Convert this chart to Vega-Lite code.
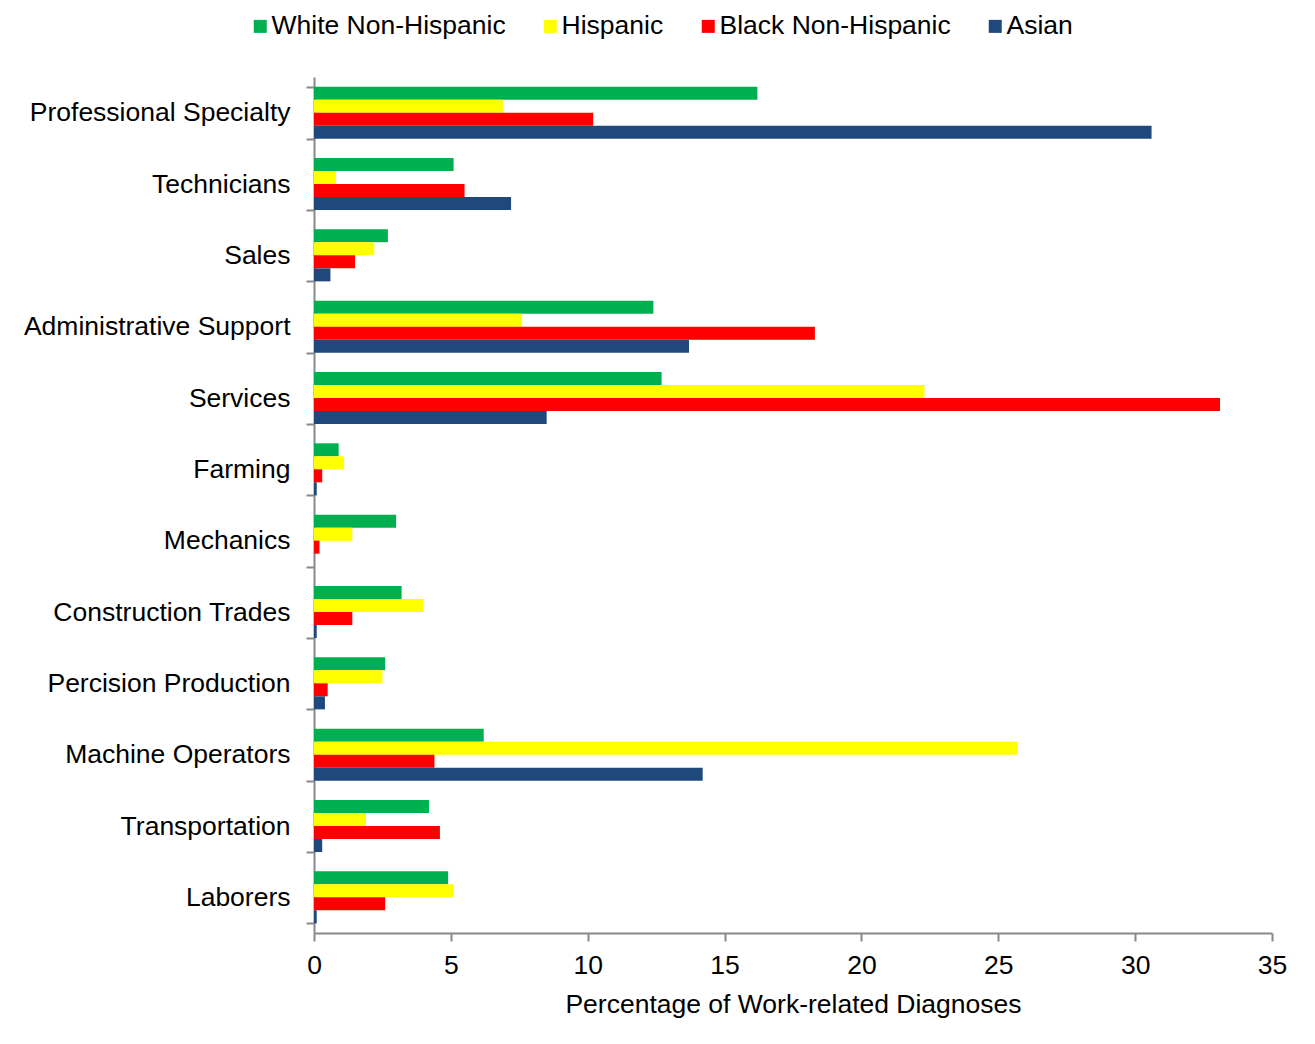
{
  "$schema": "https://vega.github.io/schema/vega-lite/v6.json",
  "width": 958,
  "height": 856,
  "autosize": {"type": "none"},
  "padding": {"left": 314, "top": 77, "right": 43, "bottom": 111},
  "background": "white",
  "config": {
    "view": {"stroke": null},
    "font": "Liberation Sans",
    "axis": {"grid": false, "domainColor": "#898989", "tickColor": "#898989", "domainWidth": 2, "tickWidth": 2, "labelColor": "#000000", "titleColor": "#000000", "labelFont": "Liberation Sans", "titleFont": "Liberation Sans", "labelFontSize": 26.5, "titleFontSize": 26.5, "titleFontWeight": "normal", "tickSize": 8},
    "legend": {"labelFont": "Liberation Sans", "labelFontSize": 26.5, "labelColor": "#000000", "labelLimit": 500}
  },
  "data": {
    "values": [
      {"occupation": "Professional Specialty", "group": "White Non-Hispanic", "value": 16.2},
      {"occupation": "Professional Specialty", "group": "Hispanic", "value": 6.9},
      {"occupation": "Professional Specialty", "group": "Black Non-Hispanic", "value": 10.2},
      {"occupation": "Professional Specialty", "group": "Asian", "value": 30.6},
      {"occupation": "Technicians", "group": "White Non-Hispanic", "value": 5.1},
      {"occupation": "Technicians", "group": "Hispanic", "value": 0.8},
      {"occupation": "Technicians", "group": "Black Non-Hispanic", "value": 5.5},
      {"occupation": "Technicians", "group": "Asian", "value": 7.2},
      {"occupation": "Sales", "group": "White Non-Hispanic", "value": 2.7},
      {"occupation": "Sales", "group": "Hispanic", "value": 2.2},
      {"occupation": "Sales", "group": "Black Non-Hispanic", "value": 1.5},
      {"occupation": "Sales", "group": "Asian", "value": 0.6},
      {"occupation": "Administrative Support", "group": "White Non-Hispanic", "value": 12.4},
      {"occupation": "Administrative Support", "group": "Hispanic", "value": 7.6},
      {"occupation": "Administrative Support", "group": "Black Non-Hispanic", "value": 18.3},
      {"occupation": "Administrative Support", "group": "Asian", "value": 13.7},
      {"occupation": "Services", "group": "White Non-Hispanic", "value": 12.7},
      {"occupation": "Services", "group": "Hispanic", "value": 22.3},
      {"occupation": "Services", "group": "Black Non-Hispanic", "value": 33.1},
      {"occupation": "Services", "group": "Asian", "value": 8.5},
      {"occupation": "Farming", "group": "White Non-Hispanic", "value": 0.9},
      {"occupation": "Farming", "group": "Hispanic", "value": 1.1},
      {"occupation": "Farming", "group": "Black Non-Hispanic", "value": 0.3},
      {"occupation": "Farming", "group": "Asian", "value": 0.1},
      {"occupation": "Mechanics", "group": "White Non-Hispanic", "value": 3.0},
      {"occupation": "Mechanics", "group": "Hispanic", "value": 1.4},
      {"occupation": "Mechanics", "group": "Black Non-Hispanic", "value": 0.2},
      {"occupation": "Mechanics", "group": "Asian", "value": 0.0},
      {"occupation": "Construction Trades", "group": "White Non-Hispanic", "value": 3.2},
      {"occupation": "Construction Trades", "group": "Hispanic", "value": 4.0},
      {"occupation": "Construction Trades", "group": "Black Non-Hispanic", "value": 1.4},
      {"occupation": "Construction Trades", "group": "Asian", "value": 0.1},
      {"occupation": "Percision Production", "group": "White Non-Hispanic", "value": 2.6},
      {"occupation": "Percision Production", "group": "Hispanic", "value": 2.5},
      {"occupation": "Percision Production", "group": "Black Non-Hispanic", "value": 0.5},
      {"occupation": "Percision Production", "group": "Asian", "value": 0.4},
      {"occupation": "Machine Operators", "group": "White Non-Hispanic", "value": 6.2},
      {"occupation": "Machine Operators", "group": "Hispanic", "value": 25.7},
      {"occupation": "Machine Operators", "group": "Black Non-Hispanic", "value": 4.4},
      {"occupation": "Machine Operators", "group": "Asian", "value": 14.2},
      {"occupation": "Transportation", "group": "White Non-Hispanic", "value": 4.2},
      {"occupation": "Transportation", "group": "Hispanic", "value": 1.9},
      {"occupation": "Transportation", "group": "Black Non-Hispanic", "value": 4.6},
      {"occupation": "Transportation", "group": "Asian", "value": 0.3},
      {"occupation": "Laborers", "group": "White Non-Hispanic", "value": 4.9},
      {"occupation": "Laborers", "group": "Hispanic", "value": 5.1},
      {"occupation": "Laborers", "group": "Black Non-Hispanic", "value": 2.6},
      {"occupation": "Laborers", "group": "Asian", "value": 0.1}
    ]
  },
  "mark": {"type": "bar"},
  "encoding": {
    "y": {
      "field": "occupation",
      "type": "nominal",
      "sort": null,
      "scale": {"paddingInner": 0.27, "paddingOuter": 0.135},
      "axis": {"title": null, "tickBand": "extent", "labelPadding": 16, "labelLimit": 400}
    },
    "yOffset": {
      "field": "group",
      "type": "nominal",
      "sort": ["White Non-Hispanic", "Hispanic", "Black Non-Hispanic", "Asian"],
      "scale": {"paddingInner": 0, "paddingOuter": 0}
    },
    "x": {
      "field": "value",
      "type": "quantitative",
      "scale": {"domain": [0, 35], "nice": false},
      "axis": {"title": "Percentage of Work-related Diagnoses", "values": [0, 5, 10, 15, 20, 25, 30, 35], "labelPadding": 11, "titlePadding": 13, "labelFlush": false}
    },
    "color": {
      "field": "group",
      "type": "nominal",
      "sort": ["White Non-Hispanic", "Hispanic", "Black Non-Hispanic", "Asian"],
      "scale": {"domain": ["White Non-Hispanic", "Hispanic", "Black Non-Hispanic", "Asian"], "range": ["#00B050", "#FFFF00", "#FF0000", "#1F497D"]},
      "legend": {"title": null, "orient": "none", "direction": "horizontal", "legendX": -67, "legendY": -64, "symbolType": "square", "symbolSize": 169, "symbolStrokeWidth": 0, "labelOffset": -2, "columnPadding": 31}
    }
  }
}
